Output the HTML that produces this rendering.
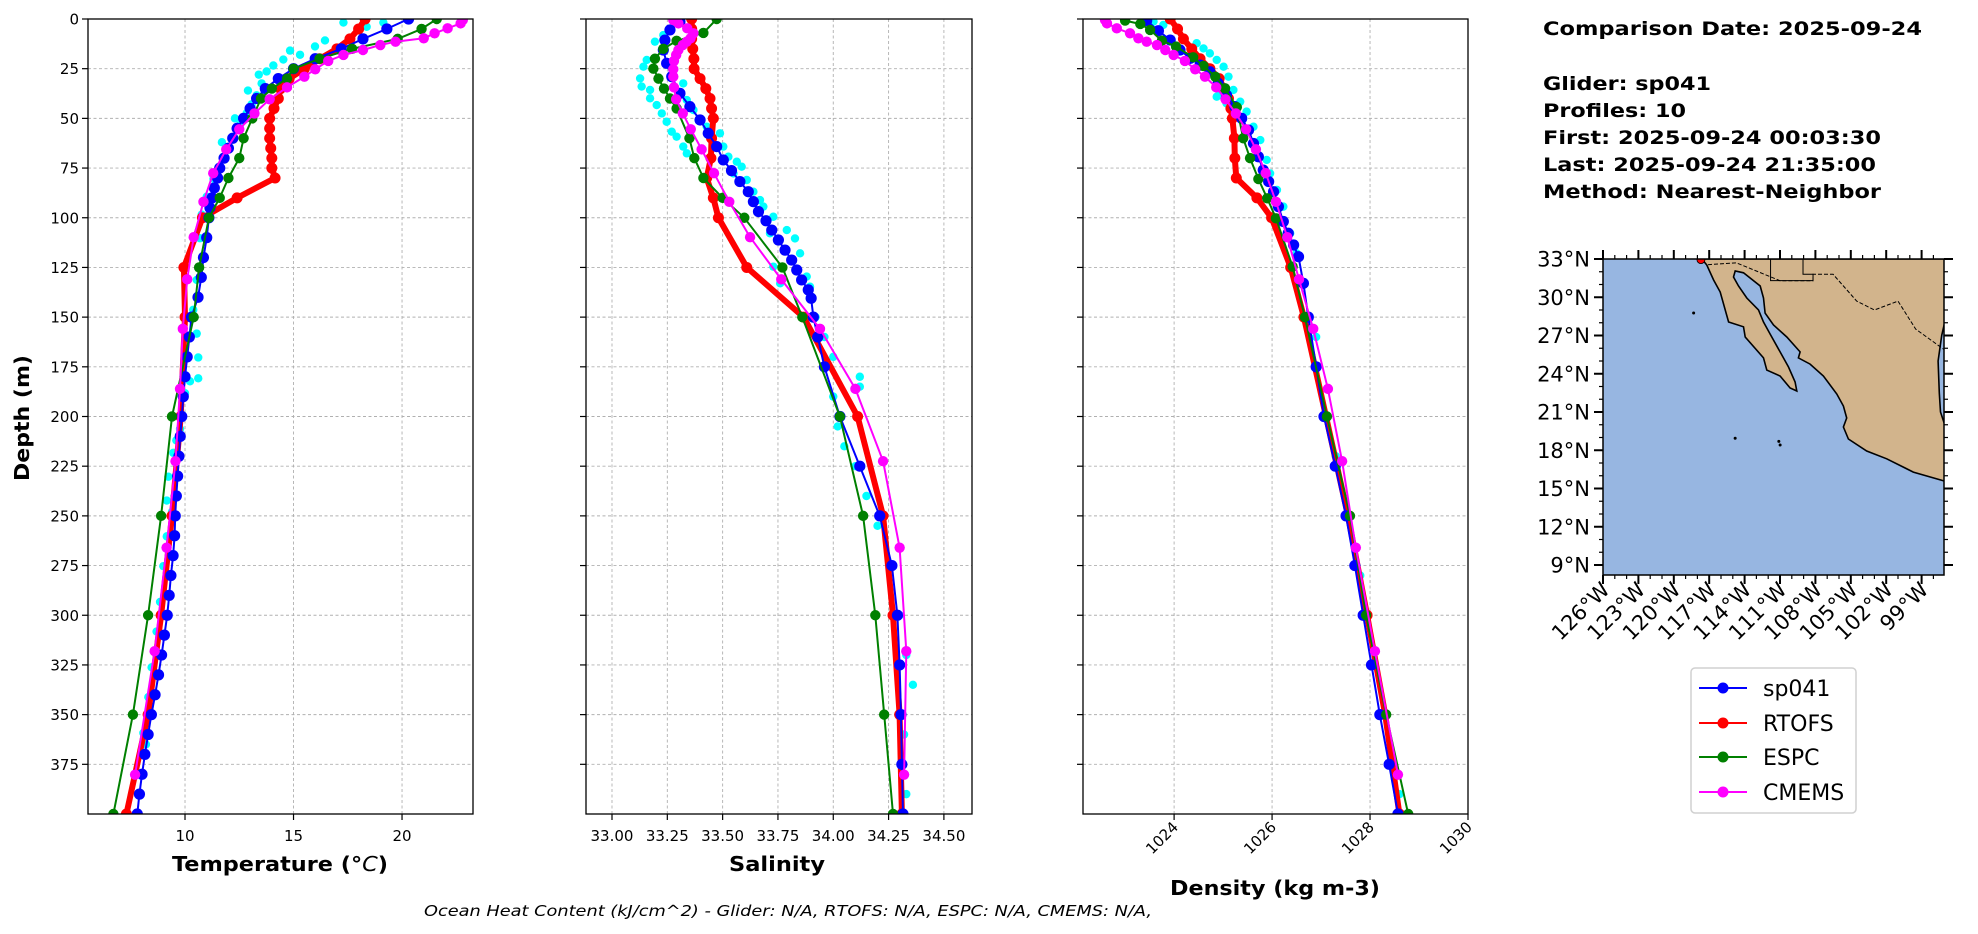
<!DOCTYPE html>
<html><head><meta charset="utf-8"><style>
html,body{margin:0;padding:0;background:#fff;}
svg{display:block;font-family:"DejaVu Sans","Liberation Sans",sans-serif;}
</style></head><body>
<svg id="fig" width="1978" height="934" viewBox="0 0 1978 934" xmlns="http://www.w3.org/2000/svg">
<defs>
<clipPath id="clipT"><rect x="88" y="19" width="385" height="795"/></clipPath>
<clipPath id="clipS"><rect x="586" y="19" width="386" height="795"/></clipPath>
<clipPath id="clipD"><rect x="1083" y="19" width="385" height="795"/></clipPath>
<clipPath id="clipM"><rect x="1603" y="259" width="341" height="316"/></clipPath>
</defs>
<g id="panels"></g>
<g id="map"></g>
<g font-weight="bold" font-size="19" fill="#000">
<text x="1543" y="35" textLength="379" lengthAdjust="spacingAndGlyphs">Comparison Date: 2025-09-24</text>
<text x="1543" y="90" textLength="168" lengthAdjust="spacingAndGlyphs">Glider: sp041</text>
<text x="1543" y="117" textLength="143" lengthAdjust="spacingAndGlyphs">Profiles: 10</text>
<text x="1543" y="144" textLength="338" lengthAdjust="spacingAndGlyphs">First: 2025-09-24 00:03:30</text>
<text x="1543" y="171" textLength="333" lengthAdjust="spacingAndGlyphs">Last: 2025-09-24 21:35:00</text>
<text x="1543" y="198" textLength="338" lengthAdjust="spacingAndGlyphs">Method: Nearest-Neighbor</text>
</g>
<g>
<rect x="1691" y="668" width="165" height="145" rx="4" fill="#fff" stroke="#d0d0d0" stroke-width="1.5"/>
<g><line x1="1699" y1="688" x2="1747" y2="688" stroke="#0000ff" stroke-width="2"/><circle cx="1723" cy="688" r="5.5" fill="#0000ff"/><text x="1763" y="696" font-size="22">sp041</text></g>
<g><line x1="1699" y1="723" x2="1747" y2="723" stroke="#ff0000" stroke-width="2"/><circle cx="1723" cy="723" r="5.5" fill="#ff0000"/><text x="1763" y="731" font-size="22">RTOFS</text></g>
<g><line x1="1699" y1="757" x2="1747" y2="757" stroke="#008000" stroke-width="2"/><circle cx="1723" cy="757" r="5.5" fill="#008000"/><text x="1763" y="765" font-size="22">ESPC</text></g>
<g><line x1="1699" y1="792" x2="1747" y2="792" stroke="#ff00ff" stroke-width="2"/><circle cx="1723" cy="792" r="5.5" fill="#ff00ff"/><text x="1763" y="800" font-size="22">CMEMS</text></g>
</g>
<text x="424" y="916" font-size="15.5" font-style="italic" textLength="728" lengthAdjust="spacingAndGlyphs">Ocean Heat Content (kJ/cm^2) - Glider: N/A,  RTOFS: N/A,  ESPC: N/A,  CMEMS: N/A,</text>
</svg>
<script>
// ---------- shared axis data ----------
const depthTicks = [0,25,50,75,100,125,150,175,200,225,250,275,300,325,350,375];
const tempTicks = [10,15,20];
const salTicks = [33.00,33.25,33.50,33.75,34.00,34.25,34.50];
const densTicks = [1024,1026,1028,1030];

// ---------- temperature series ----------
const gliderTempDepths = [0,5,10,15,20,25,30,35,40,45,50,55,60,65,70,75,80,85,90,95,100,110,120,130,140,150,160,170,180,190,200,210,220,230,240,250,260,270,280,290,300,310,320,330,340,350,360,370,380,390,400];
const gliderTemps = [20.3,19.3,18.2,17.2,16.0,15.0,14.3,13.7,13.3,13.0,12.7,12.4,12.2,12.0,11.8,11.6,11.5,11.35,11.25,11.15,11.1,11.0,10.85,10.75,10.6,10.3,10.2,10.1,10.0,9.92,9.85,9.78,9.72,9.66,9.6,9.55,9.52,9.45,9.35,9.27,9.18,9.05,8.92,8.78,8.62,8.45,8.3,8.15,8.02,7.9,7.8];
const rtofsTempDepths = [0,5,10,15,20,25,30,35,40,45,50,55,60,65,70,75,80,90,100,125,150,200,250,300,350,400];
const rtofsTemps = [18.3,18.0,17.6,17.0,16.2,15.5,14.8,14.4,14.3,14.1,13.9,13.9,13.9,13.95,14.0,14.0,14.15,12.4,10.8,9.95,10.0,9.8,9.4,8.9,8.3,7.3];
const espcTempDepths = [0,5,10,15,20,25,30,35,40,50,60,70,80,90,100,125,150,200,250,300,350,400];
const espcTemps = [21.6,20.9,19.8,17.7,16.2,15.0,14.7,14.0,13.5,13.1,12.7,12.5,12.0,11.6,11.1,10.65,10.4,9.4,8.9,8.3,7.6,6.7];
const cmemsDepths = [0.5,2.2,4.7,7.2,9.7,11.4,13.1,15.6,18.1,21.1,25.3,29.0,34.4,40.4,47.5,55.5,65.6,77.6,92.0,109.8,131.0,155.9,186.1,222.5,266.0,318.1,380.2];
const cmemsTemps = [22.8,22.7,22.1,21.5,21.0,19.7,19.0,18.2,17.3,16.6,16.0,15.5,14.7,13.9,13.2,12.5,11.9,11.3,10.85,10.4,10.1,9.9,9.77,9.56,9.15,8.6,7.7];
const cyanTempVals = [15.99,16.45,15.30,14.53,14.07,13.76,13.53,13.30,13.07,12.84,12.53,12.23,12.0,11.61,11.31,11.0,10.77,10.69,10.84,10.54,10.38,10.54,10.61,10.61,10.23,10.0,9.77,9.46,9.23,9.16,9.16,9.0,8.85,8.69,8.46,8.31,8.08,7.93,19.14,18.37,17.3,14.84,13.4,12.9,12.3,11.7,9.6,9.4,8.6,8.2];
const cyanTempDepths = [13.8,10.8,18.0,20.4,23.4,26.4,32.4,38.4,42.9,47.4,53.4,59.4,65.4,74.4,80.4,89.4,98.4,110.3,119.3,131.3,146.3,158.3,170.3,180.8,182.3,188.3,206.3,218.3,230.3,242.3,260.3,275.3,293.3,308.2,326.2,341.2,359.2,380.2,1.8,3.9,1.8,15.9,28,36,50,62,212,248,330,365];

// ---------- salinity series ----------
const gliderSalDepths = [1.4,5.5,10.6,15.6,22.3,29,37.4,44.1,50.8,57.5,64.2,70.9,76.3,81.8,86.9,91.9,96.9,101.5,106.2,111.2,116.3,121.3,126.3,131.3,136.3,140.5,150,160,175,200,225,250,275,300,325,350,375,400];
const gliderSals = [33.307,33.262,33.239,33.232,33.247,33.27,33.307,33.352,33.398,33.435,33.473,33.503,33.54,33.578,33.616,33.639,33.662,33.696,33.722,33.752,33.782,33.812,33.835,33.857,33.887,33.90,33.91,33.93,33.96,34.03,34.12,34.21,34.265,34.29,34.30,34.306,34.31,34.315];
const rtofsSalDepths = [0,5,10,15,20,25,30,35,40,45,50,60,70,80,90,100,125,150,200,250,300,350,400];
const rtofsSals = [33.36,33.36,33.36,33.365,33.37,33.371,33.398,33.424,33.443,33.45,33.458,33.45,33.447,33.428,33.458,33.481,33.609,33.866,34.11,34.225,34.27,34.30,34.31];
const espcSalDepths = [0,7,11,15,20,25,30,35,40,45,60,70,80,90,100,125,150,200,250,300,350,400];
const espcSals = [33.473,33.413,33.292,33.232,33.194,33.187,33.21,33.235,33.262,33.292,33.35,33.372,33.413,33.50,33.598,33.77,33.86,34.03,34.135,34.19,34.23,34.27];
const cmemsSals = [33.277,33.30,33.34,33.368,33.355,33.338,33.32,33.30,33.29,33.28,33.277,33.277,33.28,33.29,33.32,33.356,33.405,33.461,33.53,33.624,33.765,33.94,34.10,34.225,34.30,34.33,34.32];
const cyanSalVals = [33.127,33.134,33.142,33.157,33.194,33.232,33.172,33.202,33.225,33.247,33.27,33.292,33.322,33.338,33.488,33.503,33.526,33.564,33.586,33.609,33.639,33.669,33.684,33.729,33.79,33.827,33.85,33.88,33.895,33.172,33.322,33.338,33.368,33.398,33.428,33.549,33.714,33.729,33.76,33.92,33.96,34.0,34.12,34.12,34.0,34.02,34.05,34.1,34.15,34.2,34.27,34.3,34.33,34.36,34.32,34.33];
const cyanSalDepths = [29.9,34.0,24.0,20.6,11.4,8.1,39.9,43.3,47.5,51.7,56.7,59.2,64.2,67.6,57.5,64.2,69.3,71.8,74.3,81.0,86.9,91.1,94.4,99.5,106.2,110.4,117.9,129.6,134.7,35.7,32.4,40.8,45.8,50.8,54.2,77.7,107.8,124.6,133,150,160,170,180,185,190,205,215,225,240,255,275,300,320,335,360,390];

// ---------- density series ----------
const gliderDensDepths = [0.8,5.9,10.6,15.6,19.8,23.2,26.5,32.4,38.3,44.1,50,55.9,62.6,69.3,76,81.8,86.9,94.4,101.9,107.8,113.7,119.6,133,150,175,200,225,250,275,300,325,350,375,400];
const gliderDens = [1023.44,1023.68,1023.92,1024.12,1024.33,1024.53,1024.73,1024.9,1025.07,1025.24,1025.38,1025.52,1025.62,1025.72,1025.82,1025.93,1026.03,1026.13,1026.23,1026.33,1026.44,1026.54,1026.64,1026.74,1026.9,1027.06,1027.29,1027.51,1027.69,1027.86,1028.03,1028.2,1028.39,1028.57];
const rtofsDensDepths = [0,5,10,15,20,25,30,35,40,45,50,60,70,80,90,100,125,150,200,250,300,350,400];
const rtofsDens = [1023.92,1024.07,1024.19,1024.36,1024.53,1024.73,1024.92,1025.02,1025.11,1025.16,1025.19,1025.23,1025.24,1025.27,1025.69,1025.99,1026.38,1026.65,1027.1,1027.55,1027.94,1028.31,1028.6];
const espcDensDepths = [0.8,2.5,5.5,10.9,13.9,19.3,23.6,29,34.9,44.4,60,70,80.5,90.2,100.3,124.6,150,200,250,300,350,400];
const espcDens = [1023.0,1023.31,1023.51,1023.75,1024.04,1024.39,1024.6,1024.84,1025.04,1025.28,1025.41,1025.55,1025.72,1025.9,1026.08,1026.42,1026.67,1027.12,1027.59,1027.92,1028.33,1028.78];
const cmemsDens = [1022.59,1022.63,1022.83,1023.10,1023.27,1023.44,1023.65,1023.82,1023.99,1024.22,1024.43,1024.63,1024.86,1025.05,1025.26,1025.47,1025.67,1025.87,1026.08,1026.31,1026.55,1026.84,1027.14,1027.43,1027.71,1028.1,1028.57];
const cyanDensVals = [1024.46,1024.6,1024.73,1024.87,1025.01,1025.11,1025.21,1025.35,1025.48,1025.62,1025.76,1025.89,1025.96,1026.1,1026.23,1026.37,1024.94,1024.87,1025.07,1026.5,1023.58,1023.78,1026.9,1027.3,1027.8,1028.3,1028.6];
const cyanDensDepths = [12.2,14.8,17.3,20.6,24,29,35.7,41.6,46.6,54.2,60.9,70.9,77.7,86,94.4,107.8,38.2,39.1,42.4,117.9,1.3,3.0,160,220,280,350,390];

// ---------- map data (lon, lat) ----------
const landLons = [-117.62,-117.2,-116.63,-116.07,-115.36,-114.09,-113.95,-112.4,-112.12,-110.99,-110.14,-109.58,-109.72,-110.28,-110.99,-111.84,-112.4,-112.82,-113.81,-114.52,-114.94,-114.8,-114.09,-112.68,-112.4,-112.26,-111.55,-110.42,-109.3,-109.44,-108.45,-107.32,-106.19,-105.63,-105.35,-105.63,-105.2,-103.65,-101.96,-99.7,-97.08,-97.08,-97.4,-97.5,-97.6,-97.3,-97.08,-97.08];
const landLats = [33,32.53,31.35,30.41,28.06,27.68,26.88,25.24,24.29,23.82,22.88,22.65,23.35,24.53,25.71,27.12,28.06,29.0,29.94,30.88,31.59,32.06,31.92,30.88,29.94,28.76,27.82,26.88,25.71,25.24,24.76,23.82,22.41,21.47,20.53,19.82,18.88,17.94,17.33,16.29,15.59,20.1,21,22.5,25,27,27.9,33];
const borderLons = [-117.1,-114.7,-111.0,-108.2,-108.2,-106.5,-104.5,-103.0,-101.0,-99.5,-97.1];
const borderLats = [32.55,32.7,31.3,31.3,31.8,31.8,29.7,29.0,29.7,27.5,25.9];
const islandLons = [-118.32,-114.8,-110.99,-111.1];
const islandLats = [28.76,18.94,18.41,18.7];
const gliderLon = [-117.7];
const gliderLat = [32.95];
const latTicks = [33,30,27,24,21,18,15,12,9];
const lonTicks = [-126,-123,-120,-117,-114,-111,-108,-105,-102,-99];

// ---------- helpers ----------
const NS = "http://www.w3.org/2000/svg";
function mk(tag, attrs, parent){
  const e = document.createElementNS(NS, tag);
  for (const k in attrs) e.setAttribute(k, attrs[k]);
  parent.appendChild(e);
  return e;
}
const Y0 = 19, Y1 = 814;
function yScale(d){ return Y0 + d/400*(Y1-Y0); }

function drawPanel(name, x0, x1, dmin, dmax, ticks, fmt, clipId, rotate, showY){
  const g = mk('g', {}, document.getElementById('panels'));
  
  
  const xs = v => x0 + (v-dmin)/(dmax-dmin)*(x1-x0);
  ticks.forEach(t => {
    const X = xs(t);
    const l = mk('line', {x1:X, y1:Y0, x2:X, y2:Y1, stroke:'#b0b0b0', 'stroke-width':0.9, 'stroke-dasharray':'3,2.5'}, g);
    
    
    const tk = mk('line', {x1:X, y1:Y1, x2:X, y2:Y1+6, stroke:'#000', 'stroke-width':1.2}, g);
    
    
    let tx;
    if (rotate) {
      tx = mk('text', {x:0, y:0, 'font-size':15, 'text-anchor':'end', transform:'translate(' + (X+5) + ',' + (Y1+14) + ') rotate(-45)'}, g);
    } else {
      tx = mk('text', {x:X, y:Y1+27, 'font-size':15, 'text-anchor':'middle'}, g);
    }
    tx.textContent = fmt(t);
    
    
  });
  depthTicks.forEach(d => {
    const Y = yScale(d);
    if (d > 0) {
      const l = mk('line', {x1:x0, y1:Y, x2:x1, y2:Y, stroke:'#b0b0b0', 'stroke-width':0.9, 'stroke-dasharray':'3,2.5'}, g);
      
      
    }
    const tk = mk('line', {x1:x0-6, y1:Y, x2:x0, y2:Y, stroke:'#000', 'stroke-width':1.2}, g);
    
    
    if (showY) {
      const tx = mk('text', {x:x0-9, y:Y+5.5, 'font-size':15, 'text-anchor':'end'}, g);
      tx.textContent = d;
      
      
    }
  });
  const plot = mk('g', {'clip-path':'url(#' + clipId + ')'}, g);
  
  
  return {g, plot, xs};
}

function drawScatter(p, vals, depths, color, r, label){
  vals.forEach((v,i) => {
    const c = mk('circle', {cx:p.xs(v), cy:yScale(depths[i]), r:r, fill:color}, p.plot);
    
    
  });
}
function drawLine(p, vals, depths, color, lw, r, label){
  const pts = vals.map((v,i) => p.xs(v).toFixed(1) + ',' + yScale(depths[i]).toFixed(1)).join(' ');
  const pl = mk('polyline', {points:pts, fill:'none', stroke:color, 'stroke-width':lw, 'stroke-linejoin':'round'}, p.plot);
  
  
  vals.forEach((v,i) => {
    const c = mk('circle', {cx:p.xs(v), cy:yScale(depths[i]), r:r, fill:color}, p.plot);
    
    
  });
}
function frame(p, x0, x1){
  const f = mk('rect', {x:x0, y:Y0, width:x1-x0, height:Y1-Y0, fill:'none', stroke:'#000', 'stroke-width':1.3}, p.g);
  
  
}
function label(txt, x, y, name, w){
  const t = mk('text', {x:x, y:y, 'font-size':20, 'font-weight':'bold', 'text-anchor':'middle', textLength:w, lengthAdjust:'spacingAndGlyphs'}, document.getElementById('panels'));
  t.textContent = txt;
  
  
}

// ---------- Temperature ----------
const pT = drawPanel('temperature', 88, 473, 5.53, 23.27, tempTicks, v => String(v), 'clipT', false, true);
drawScatter(pT, cyanTempVals, cyanTempDepths, '#00ffff', 4.2, 'glider-profile-temp');
drawLine(pT, rtofsTemps, rtofsTempDepths, '#ff0000', 6, 5.5, 'rtofs-temp');
drawLine(pT, gliderTemps, gliderTempDepths, '#0000ff', 2, 5.6, 'glider-temp');
drawLine(pT, espcTemps, espcTempDepths, '#008000', 2, 5.2, 'espc-temp');
drawLine(pT, cmemsTemps, cmemsDepths, '#ff00ff', 2, 5.2, 'cmems-temp');
frame(pT, 88, 473);
(function(){
  const t = mk('text', {x:172, y:871, 'font-size':20, 'font-weight':'bold', textLength:216, lengthAdjust:'spacingAndGlyphs'}, document.getElementById('panels'));
  t.innerHTML = 'Temperature (°<tspan font-style="italic" font-weight="normal">C</tspan>)';
  
  
  const d = mk('text', {x:0, y:0, 'font-size':20, 'font-weight':'bold', 'text-anchor':'middle', transform:'translate(29,418) rotate(-90)', textLength:126, lengthAdjust:'spacingAndGlyphs'}, document.getElementById('panels'));
  d.textContent = 'Depth (m)';
  
  
})();

// ---------- Salinity ----------
const pS = drawPanel('salinity', 586, 972, 32.8825, 34.627, salTicks, v => v.toFixed(2), 'clipS', false, false);
drawScatter(pS, cyanSalVals, cyanSalDepths, '#00ffff', 4.2, 'glider-profile-sal');
drawLine(pS, rtofsSals, rtofsSalDepths, '#ff0000', 6, 5.5, 'rtofs-sal');
drawLine(pS, gliderSals, gliderSalDepths, '#0000ff', 2, 5.6, 'glider-sal');
drawLine(pS, espcSals, espcSalDepths, '#008000', 2, 5.2, 'espc-sal');
drawLine(pS, cmemsSals, cmemsDepths, '#ff00ff', 2, 5.2, 'cmems-sal');
frame(pS, 586, 972);
label('Salinity', 777, 871, 'salinity-axis-title', 96);

// ---------- Density ----------
const pD = drawPanel('density', 1083, 1468, 1022.14, 1030, densTicks, v => String(v), 'clipD', true, false);
drawScatter(pD, cyanDensVals, cyanDensDepths, '#00ffff', 4.2, 'glider-profile-dens');
drawLine(pD, rtofsDens, rtofsDensDepths, '#ff0000', 6, 5.5, 'rtofs-dens');
drawLine(pD, gliderDens, gliderDensDepths, '#0000ff', 2, 5.6, 'glider-dens');
drawLine(pD, espcDens, espcDensDepths, '#008000', 2, 5.2, 'espc-dens');
drawLine(pD, cmemsDens, cmemsDepths, '#ff00ff', 2, 5.2, 'cmems-dens');
frame(pD, 1083, 1468);
label('Density (kg m-3)', 1275, 895, 'density-axis-title', 210);

// ---------- Map ----------
(function(){
  const M = document.getElementById('map');
  const MX0 = 1603, MX1 = 1944, MY0 = 259, MY1 = 575;
  const lx = lon => MX0 + (lon + 126) * 11.8;
  const ly = lat => MY0 + (33 - lat) * 12.75;
  const ocean = mk('rect', {x:MX0, y:MY0, width:MX1-MX0, height:MY1-MY0, fill:'#97b6e1'}, M);
  
  
  const cg = mk('g', {'clip-path':'url(#clipM)'}, M);
  
  
  const land = mk('polygon', {points: landLons.map((v,i) => lx(v).toFixed(1) + ',' + ly(landLats[i]).toFixed(1)).join(' '), fill:'#d2b48c', stroke:'#000', 'stroke-width':1.6}, cg);
  
  
  const b = mk('polyline', {points: borderLons.map((v,i) => lx(v).toFixed(1) + ',' + ly(borderLats[i]).toFixed(1)).join(' '), fill:'none', stroke:'#000', 'stroke-width':1, 'stroke-dasharray':'4,2'}, cg);
  
  
  const st = mk('polyline', {points: lx(-111.8)+','+ly(33)+' '+lx(-111.8)+','+ly(31.3)+' '+lx(-108.2)+','+ly(31.3)+' '+lx(-108.2)+','+ly(31.8)+' '+lx(-109.05)+','+ly(31.8)+' '+lx(-109.05)+','+ly(33), fill:'none', stroke:'#000', 'stroke-width':1}, cg);
  
  
  islandLons.forEach((v,i) => {
    const c = mk('circle', {cx:lx(v), cy:ly(islandLats[i]), r:1.5, fill:'#000'}, cg);
    
    
  });
  gliderLon.forEach((v,i) => {
    const c = mk('circle', {cx:lx(v), cy:ly(gliderLat[i]), r:4, fill:'#ff0000', stroke:'#000', 'stroke-width':0.8}, cg);
    
    
  });
  const fr = mk('rect', {x:MX0, y:MY0, width:MX1-MX0, height:MY1-MY0, fill:'none', stroke:'#000', 'stroke-width':1.5}, M);
  
  
  for (let lat = 9; lat <= 33; lat++) {
    const Y = ly(lat);
    const major = latTicks.indexOf(lat) >= 0;
    const L = major ? 9 : 4;
    mk('line', {x1:MX0-L, y1:Y, x2:MX0, y2:Y, stroke:'#000', 'stroke-width':major?2:1.2}, M);
    mk('line', {x1:MX1, y1:Y, x2:MX1+L, y2:Y, stroke:'#000', 'stroke-width':major?2:1.2}, M);
  }
  for (let lon = -126; lon <= -97; lon++) {
    const X = lx(lon);
    if (X > MX1 + 0.5) continue;
    const major = lonTicks.indexOf(lon) >= 0;
    const L = major ? 9 : 4;
    mk('line', {x1:X, y1:MY1, x2:X, y2:MY1+L, stroke:'#000', 'stroke-width':major?2:1.2}, M);
    mk('line', {x1:X, y1:MY0-L, x2:X, y2:MY0, stroke:'#000', 'stroke-width':major?2:1.2}, M);
  }
  latTicks.forEach(lat => {
    const t = mk('text', {x:MX0-13, y:ly(lat)+7.5, 'font-size':21, 'text-anchor':'end'}, M);
    t.textContent = lat + '°N';
    
    
  });
  lonTicks.forEach(lon => {
    const X = lx(lon);
    const t = mk('text', {x:0, y:0, 'font-size':21, 'text-anchor':'end', transform:'translate(' + (X+8) + ',' + (MY1+16) + ') rotate(-45)'}, M);
    t.textContent = (-lon) + '°W';
    
    
  });
})();
</script>
</body></html>
